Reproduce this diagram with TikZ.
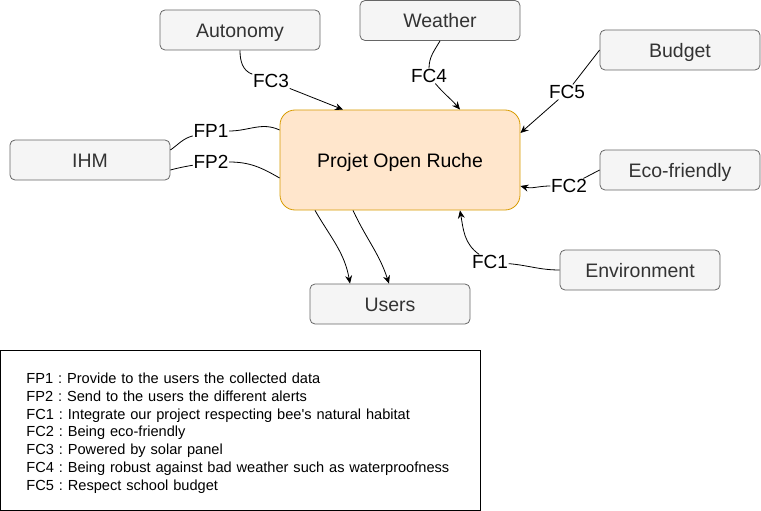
\documentclass[tikz,border=0pt]{standalone}
\usepackage{fontspec}
\setmainfont{Liberation Sans}
\usetikzlibrary{arrows.meta}
\definecolor{boxfill}{HTML}{F5F5F5}
\definecolor{boxline}{HTML}{666666}
\definecolor{boxtext}{HTML}{333333}
\definecolor{mainfill}{HTML}{FFE6CC}
\definecolor{mainline}{HTML}{D79B00}
\frenchspacing
\begin{document}
\begin{tikzpicture}[
  x=1pt, y=-1pt,
  ext/.style={rectangle, rounded corners=5pt, draw=boxline, fill=boxfill, text=boxtext,
    line width=0.8pt, minimum width=160pt, minimum height=40pt,
    text height=18pt, text depth=3.4pt, font=\fontsize{19.5}{23}\selectfont},
  core/.style={rectangle, rounded corners=15pt, draw=mainline, fill=mainfill,
    line width=0.8pt, minimum width=240pt, minimum height=100pt,
    text height=18pt, text depth=3.4pt, font=\fontsize{19.5}{23}\selectfont},
  lbl/.style={fill=white, inner sep=0.6pt, font=\fontsize{19}{22}\selectfont},
  c/.style={line width=0.8pt},
  arr/.style={line width=0.8pt, -{Stealth[length=8pt, width=7pt]}},
  legend/.style={rectangle, draw, line width=0.8pt, minimum width=480pt, minimum height=160pt,
    text width=428pt, inner xsep=26pt, align=left, font=\fontsize{14.6}{17.7}\selectfont}
]
\useasboundingbox (0,0) rectangle (761,511);

% central system and its surroundings
\node[core] (ruche) at (400,160) {Projet Open Ruche};
\node[ext] (auton) at (240,30) {Autonomy};
\node[ext] (weather) at (440,20.5) {Weather};
\node[ext] (budget) at (680,50) {Budget};
\node[ext] (eco) at (680,170) {Eco-friendly};
\node[ext] (env) at (640,270) {Environment};
\node[ext] (ihm) at (90,160) {IHM};
\node[ext] (users) at (390,304) {Users};

% function labels
\node[lbl] (fc3) at (271,81) {FC3};
\node[lbl] (fc4) at (429,76) {FC4};
\node[lbl] (fc5) at (567,92) {FC5};
\node[lbl] (fc2) at (569,186) {FC2};
\node[lbl] (fc1) at (490,262) {FC1};
\node[lbl] (fp1) at (211,131) {FP1};
\node[lbl] (fp2) at (211,162) {FP2};

% constraint links
\draw[c] (auton.south) to[out=-90, in=160] (fc3);
\draw[arr] (fc3) -- ([xshift=-57pt]ruche.north);
\draw[c] (weather.south) to[out=-120, in=90] (fc4);
\draw[arr] (fc4) to[out=-50, in=130] ([xshift=60pt]ruche.north);
\draw[c] (budget.west) -- (fc5);
\draw[arr] (fc5) -- ([yshift=27pt]ruche.east);
\draw[c] (eco.west) -- (fc2);
\draw[arr] (fc2) to[out=180, in=-15] ([yshift=-26pt]ruche.east);
\draw[c] (env.west) to[out=180, in=-5] (fc1);
\draw[arr] (fc1) to[out=145, in=-80] ([xshift=60pt]ruche.south);

% main functions
\draw[c] ([yshift=30pt]ruche.west) to[out=155, in=0] (fp1);
\draw[c] (fp1) to[out=195, in=35] ([yshift=10pt]ihm.east);
\draw[c] ([yshift=-18pt]ruche.west) to[out=150, in=0] (fp2);
\draw[c] (fp2) to[out=190, in=15] ([yshift=-10pt]ihm.east);
\draw[arr] ([xshift=-85pt]ruche.south) to[out=-60, in=100] ([xshift=-40pt]users.north);
\draw[arr] ([xshift=-47pt]ruche.south) to[out=-65, in=108] ([xshift=-1pt]users.north);

% legend
\node[legend] (leg) at (240.5,430) {\rule{0pt}{17pt}FP1 : Provide to the users the collected data\\
FP2 : Send to the users the different alerts\\
FC1 : Integrate our project respecting bee\textquotesingle s natural habitat\\
FC2 : Being eco-friendly\\
FC3 : Powered by solar panel\\
FC4 : Being robust against bad weather such as waterproofness\\
FC5 : Respect school budget};

\end{tikzpicture}
\end{document}
